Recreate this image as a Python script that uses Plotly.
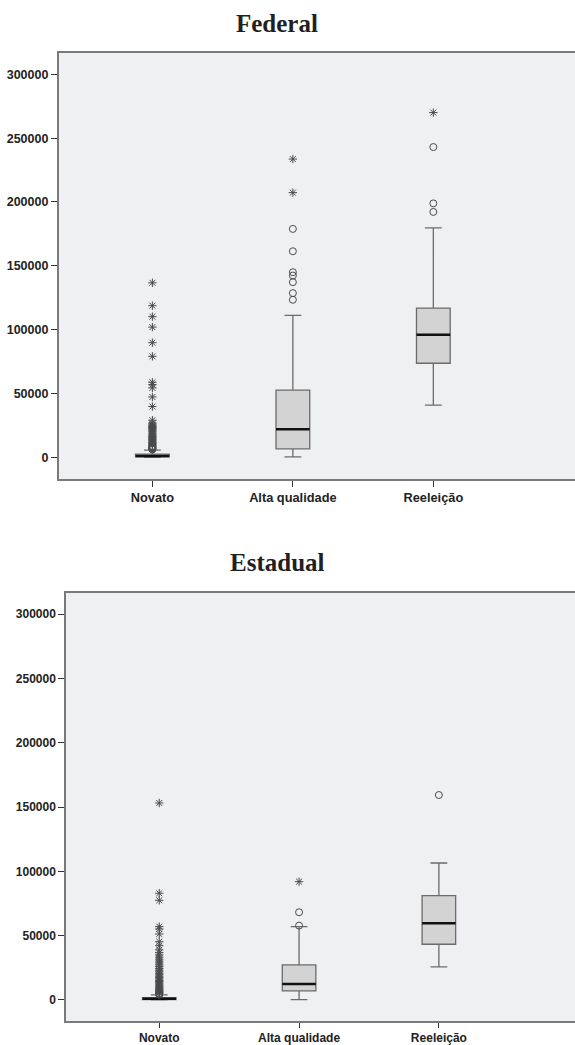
import plotly.graph_objects as go

categories = ["Novato", "Alta qualidade", "Reeleição"]
tick_values = [0, 50000, 100000, 150000, 200000, 250000, 300000]
tick_labels = ["0", "50000", "100000", "150000", "200000", "250000", "300000"]

# Federal box statistics
fed_q1 = [300, 6700, 73700]
fed_median = [1100, 22100, 96100]
fed_q3 = [2600, 52600, 116900]
fed_lower = [0, 300, 40900]
fed_upper = [5700, 111200, 179700]

# Federal outliers (circles = moderate, stars = extreme)
fed_novato_circles = [6200, 6600, 6900, 7300, 7700, 8100, 8500, 8900]
fed_novato_stars = [9600, 10300, 10900, 11600, 12200, 13100, 13900, 14700, 15600,
                    16400, 17300, 18200, 19000, 20000, 20800, 21700, 22500, 23400,
                    24200, 25100, 26000, 26800, 29100, 39800, 47300, 54400, 57000,
                    58800, 79100, 89800, 102000, 110200, 118800, 136700]
fed_alta_circles = [123400, 128600, 137200, 142400, 145000, 161400, 178900]
fed_alta_stars = [207300, 233600]
fed_reel_circles = [192200, 198900, 243000]
fed_reel_stars = [270000]

# Estadual box statistics
est_q1 = [200, 7000, 43300]
est_median = [900, 12400, 59600]
est_q3 = [1800, 27200, 81100]
est_lower = [0, 250, 25700]
est_upper = [3900, 57000, 106500]

est_novato_circles = [4100, 4600, 5000]
est_novato_stars = [5500, 6000, 6600, 7200, 7800, 8500, 9100, 9900, 10700, 11500,
                    12400, 13300, 14300, 15200, 16300, 17300, 18400, 19500, 20700,
                    21900, 23200, 24500, 25900, 27300, 28800, 30200, 31700, 33300,
                    35000, 36800, 38900, 42200, 45300, 51300, 55200, 57000, 77500,
                    83000, 153200]
est_alta_circles = [57800, 68200]
est_alta_stars = [92000]
est_reel_circles = [159400]
est_reel_stars = []

BOX_W = 0.24
BOX_LINE = "#6b6b6b"
BOX_FILL = "#d3d3d3"
MARK = "#4a4a4a"

fig = go.Figure()


def add_panel(xref, yref, q1, med, q3, lo, up, circles, stars):
    for i in range(len(categories)):
        fig.add_trace(go.Box(
            x=[i], q1=[q1[i]], median=[med[i]], q3=[q3[i]],
            lowerfence=[lo[i]], upperfence=[up[i]],
            width=BOX_W, whiskerwidth=0.5, boxpoints=False,
            fillcolor=BOX_FILL, line=dict(color=BOX_LINE, width=1.3),
            xaxis=xref, yaxis=yref, showlegend=False, hoverinfo="skip"))
        fig.add_trace(go.Scatter(
            x=[i - BOX_W / 2, i + BOX_W / 2], y=[med[i], med[i]],
            mode="lines", line=dict(color="#111111", width=2.5),
            xaxis=xref, yaxis=yref, showlegend=False, hoverinfo="skip"))
        if circles[i]:
            fig.add_trace(go.Scatter(
                x=[i] * len(circles[i]), y=circles[i], mode="markers",
                marker=dict(symbol="circle-open", size=7, color=MARK,
                            line=dict(color=MARK, width=1)),
                xaxis=xref, yaxis=yref, showlegend=False, hoverinfo="skip"))
        if stars[i]:
            fig.add_trace(go.Scatter(
                x=[i] * len(stars[i]), y=stars[i], mode="markers",
                marker=dict(symbol="asterisk-open", size=7, color=MARK,
                            line=dict(color=MARK, width=1)),
                xaxis=xref, yaxis=yref, showlegend=False, hoverinfo="skip"))


add_panel("x", "y", fed_q1, fed_median, fed_q3, fed_lower, fed_upper,
          [fed_novato_circles, fed_alta_circles, fed_reel_circles],
          [fed_novato_stars, fed_alta_stars, fed_reel_stars])
add_panel("x2", "y2", est_q1, est_median, est_q3, est_lower, est_upper,
          [est_novato_circles, est_alta_circles, est_reel_circles],
          [est_novato_stars, est_alta_stars, est_reel_stars])

W, H = 590, 1045  # slightly wider than the view so the cropped right edge shows no frame
axis_common = dict(showgrid=False, zeroline=False, showline=True,
                   linecolor="#7a7a7a", linewidth=1.5, ticks="outside",
                   tickcolor="#333333", tickwidth=1.2, automargin=False)


def tf(size):
    return dict(family="Liberation Sans, Arial, sans-serif", size=size,
                color="#222222", weight="bold")


top_right = (W - 152.3) / 140.5
bot_right = (W - 159.3) / 139.8

fig.update_layout(
    width=W, height=H,
    margin=dict(l=0, r=0, t=0, b=0),
    paper_bgcolor="white",
    plot_bgcolor="#eff0f2",
    showlegend=False,
    xaxis=dict(domain=[58.7 / W, 1], range=[-0.667, top_right], anchor="y",
               tickvals=[0, 1, 2], ticktext=categories, mirror=True, ticklen=6,
               tickfont=tf(12.8), **axis_common),
    yaxis=dict(domain=[1 - 479 / H, 1 - 52.7 / H], range=[-16950, 316900],
               anchor="x", tickvals=tick_values, ticktext=tick_labels, ticklen=6,
               tickfont=tf(12.5), **axis_common),
    xaxis2=dict(domain=[66 / W, 1], range=[-0.667, bot_right], anchor="y2",
                tickvals=[0, 1, 2], ticktext=categories, mirror=True, ticklen=5,
                tickfont=tf(12), **axis_common),
    yaxis2=dict(domain=[1 - 1021 / H, 1 - 592.7 / H], range=[-16400, 316800],
                anchor="x2", tickvals=tick_values, ticktext=tick_labels, ticklen=6,
                tickfont=tf(12), **axis_common),
    annotations=[
        dict(text="<b>Federal</b>", x=277 / W, y=1 - 23 / H, xref="paper",
             yref="paper", showarrow=False, xanchor="center", yanchor="middle",
             font=dict(family="Liberation Serif, DejaVu Serif, serif", size=25,
                       color="#231f20")),
        dict(text="<b>Estadual</b>", x=277 / W, y=1 - 562 / H, xref="paper",
             yref="paper", showarrow=False, xanchor="center", yanchor="middle",
             font=dict(family="Liberation Serif, DejaVu Serif, serif", size=25,
                       color="#231f20")),
    ],
)

fig.write_html(
    "out.html",
    config={"displayModeBar": False},
    post_script="document.body.style.margin='0';document.body.style.overflow='hidden';",
)
